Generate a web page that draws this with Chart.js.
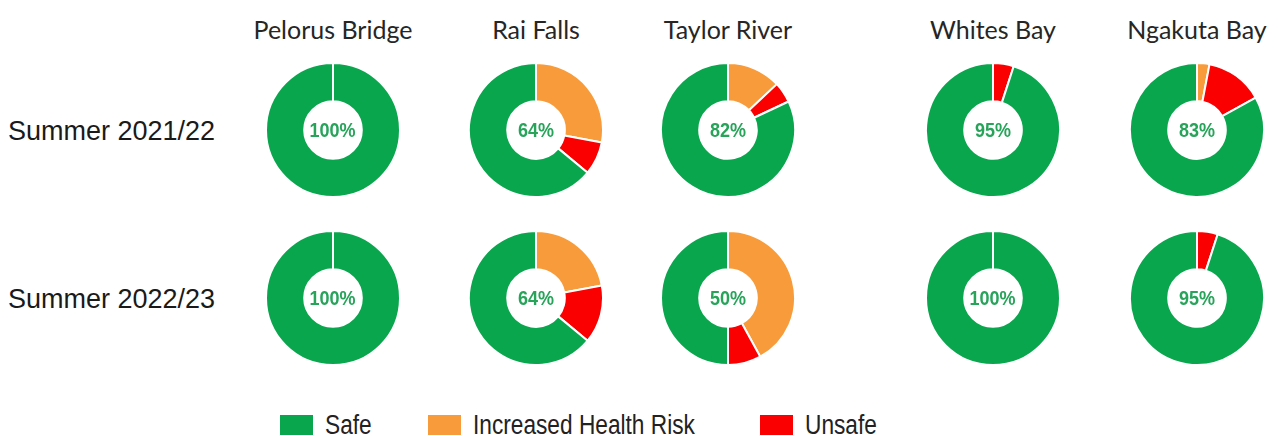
<!DOCTYPE html>
<html lang="en">
<head>
<meta charset="utf-8" />
<title>Water quality by site</title>
<script src="https://cdn.jsdelivr.net/npm/chart.js"></script>
<style>
  body { margin: 0; background: #fff; }
  #wrap { position: relative; width: 1278px; height: 436px; overflow: hidden; }
  .site { position: absolute; top: 17px; width: 220px; margin-left: -110px; text-align: center;
          font-family: Lato, "Open Sans", sans-serif; font-size: 25px; line-height: 25px; color: #262626; }
  .season { position: absolute; left: 8px; font-family: "Liberation Sans", Arial, sans-serif;
            font-size: 27px; line-height: 27px; color: #1a1a1a; white-space: nowrap; }
  .ring { position: absolute; width: 136px; height: 136px; margin: -68px 0 0 -68px; }
  .ring canvas { display: block; }
  .pct { position: absolute; left: 0; top: 0; width: 136px; text-align: center;
         font: bold 20px "Liberation Sans", Arial, sans-serif; line-height: 136px; color: #27a35a; }
  .pct span { display: inline-block; transform: scaleX(0.9); }
  .key { position: absolute; top: 412px; font-family: "Liberation Sans", Arial, sans-serif;
         font-size: 27px; line-height: 27px; color: #222; white-space: nowrap; }
  .key i { display: inline-block; width: 33px; height: 20px; margin-right: 12px; vertical-align: -1px; }
  .key span { display: inline-block; transform: scaleX(0.84); transform-origin: left center; }
</style>
</head>
<body>
<div id="wrap"></div>

<script>
// sites across the top, seasons down the side
const sites = ['Pelorus Bridge', 'Rai Falls', 'Taylor River', 'Whites Bay', 'Ngakuta Bay'];
const seasons = ['Summer 2021/22', 'Summer 2022/23'];
const categories = ['Safe', 'Increased Health Risk', 'Unsafe'];

// % of samples in each category, per site
const safe2122   = [100, 64, 82, 95, 83];
const risk2122   = [0, 28, 13, 0, 3];
const unsafe2122 = [0, 8, 5, 5, 14];

const safe2223   = [100, 64, 50, 100, 95];
const risk2223   = [0, 22, 42, 0, 0];
const unsafe2223 = [0, 14, 8, 0, 5];

const safeBySeason = [safe2122, safe2223];
const riskBySeason = [risk2122, risk2223];
const unsafeBySeason = [unsafe2122, unsafe2223];

const GREEN = '#0aa64d';
const ORANGE = '#f89b3a';
const RED = '#fa0000';
const colours = [GREEN, ORANGE, RED];

// where things go on the page
const colX = [333, 536, 728, 993, 1197];
const rowY = [130, 298];
const keyX = [280, 428, 760];

const wrap = document.getElementById('wrap');

sites.forEach((s, i) => {
  const d = document.createElement('div');
  d.className = 'site';
  d.style.left = colX[i] + 'px';
  d.textContent = s;
  wrap.appendChild(d);
});

seasons.forEach((s, r) => {
  const d = document.createElement('div');
  d.className = 'season';
  d.style.top = (rowY[r] - 12) + 'px';
  d.textContent = s;
  wrap.appendChild(d);

  sites.forEach((site, i) => {
    const box = document.createElement('div');
    box.className = 'ring';
    box.style.left = colX[i] + 'px';
    box.style.top = rowY[r] + 'px';
    const c = document.createElement('canvas');
    c.width = 136; c.height = 136;
    box.appendChild(c);
    const p = document.createElement('div');
    p.className = 'pct';
    p.innerHTML = '<span>' + safeBySeason[r][i] + '%</span>';
    box.appendChild(p);
    wrap.appendChild(box);

    // clockwise from 12 o'clock: risk, unsafe, then safe
    new Chart(c, {
      type: 'doughnut',
      data: {
        labels: [categories[1], categories[2], categories[0]],
        datasets: [{
          data: [riskBySeason[r][i], unsafeBySeason[r][i], safeBySeason[r][i]],
          backgroundColor: [ORANGE, RED, GREEN],
          borderColor: '#fff',
          borderWidth: 2,
          hoverOffset: 0
        }]
      },
      options: {
        responsive: false,
        animation: false,
        events: [],
        cutout: '43%',
        plugins: { legend: { display: false }, tooltip: { enabled: false } }
      }
    });
  });
});

categories.forEach((cat, k) => {
  const d = document.createElement('div');
  d.className = 'key';
  d.style.left = keyX[k] + 'px';
  d.innerHTML = '<i style="background:' + colours[k] + '"></i><span>' + cat + '</span>';
  wrap.appendChild(d);
});
</script>
</body>
</html>
